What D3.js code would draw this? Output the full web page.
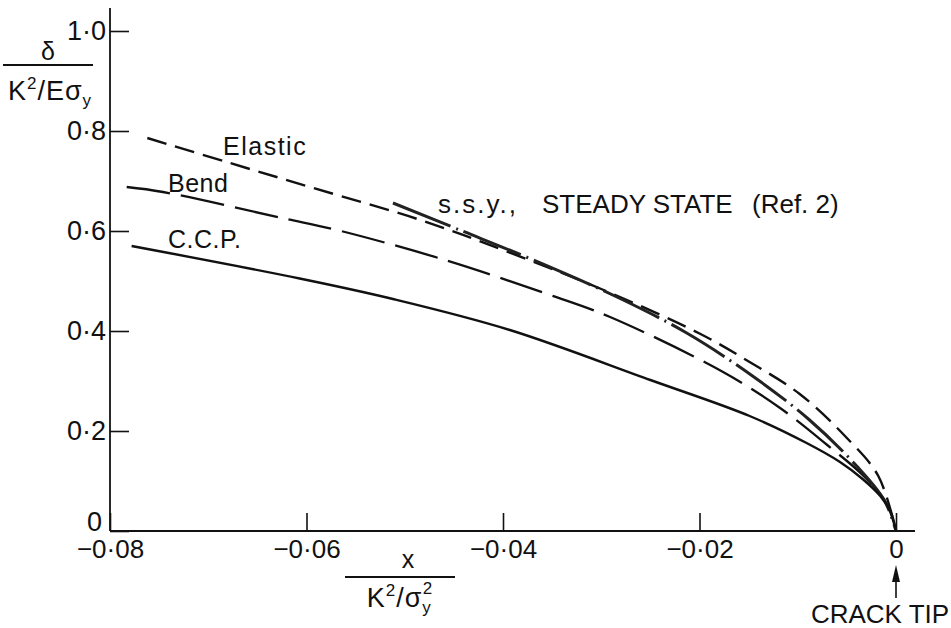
<!DOCTYPE html>
<html lang="en">
<head>
<meta charset="utf-8">
<title>Crack opening profiles</title>
<script src="https://cdn.jsdelivr.net/npm/d3@7"></script>
<style>
  body { margin: 0; background: #fff; }
  svg text { font-family: "Liberation Sans", Arial, sans-serif; fill: #111; }
</style>
</head>
<body>
<script>
// ticks
var xTicks = [-0.08, -0.06, -0.04, -0.02, 0];
var xTickLabels = ["\u22120\u00b708", "\u22120\u00b706", "\u22120\u00b704", "\u22120\u00b702", "0"];
var yTicks = [0, 0.2, 0.4, 0.6, 0.8, 1.0];
var yTickLabels = ["0", "0\u00b72", "0\u00b74", "0\u00b76", "0\u00b78", "1\u00b70"];

// curves: [x, delta]
var elastic = [[-0.0762, 0.786], [-0.0678, 0.736], [-0.0593, 0.686], [-0.0484, 0.622], [-0.040, 0.562],
  [-0.030, 0.484], [-0.020, 0.395], [-0.0149, 0.338], [-0.0098, 0.274], [-0.0050, 0.186],
  [-0.0018, 0.110], [0, 0]];
var ssy = [[-0.0512, 0.656], [-0.0444, 0.602], [-0.0369, 0.542], [-0.0284, 0.468], [-0.0213, 0.396],
  [-0.0146, 0.310], [-0.0088, 0.222], [-0.0040, 0.130], [-0.0012, 0.062], [0, 0]];
var bend = [[-0.0783, 0.688], [-0.0746, 0.678], [-0.0625, 0.626], [-0.0569, 0.602], [-0.0459, 0.542],
  [-0.0352, 0.472], [-0.0291, 0.428], [-0.0176, 0.318], [-0.0118, 0.246], [-0.0070, 0.172],
  [-0.0034, 0.112], [-0.0010, 0.056], [0, 0]];
var ccp = [[-0.0778, 0.570], [-0.0607, 0.505], [-0.0512, 0.464], [-0.0393, 0.402], [-0.0250, 0.302],
  [-0.0149, 0.230], [-0.0091, 0.176], [-0.0057, 0.138], [-0.0034, 0.104], [-0.0016, 0.070],
  [-0.0005, 0.036], [0, 0]];

var curveLabels = ["Elastic", "Bend", "C.C.P."];

var svg = d3.select("body").append("svg")
    .attr("width", 951)
    .attr("height", 628);

var x = d3.scaleLinear().domain([-0.08, 0]).range([110, 896]);
var y = d3.scaleLinear().domain([0, 1]).range([531, 31]);

// axis lines
svg.append("line").attr("x1", x(-0.08)).attr("x2", 915).attr("y1", y(0)).attr("y2", y(0))
    .attr("stroke", "#111").attr("stroke-width", 1.8);
svg.append("line").attr("x1", x(-0.08)).attr("x2", x(-0.08)).attr("y1", 8).attr("y2", y(0))
    .attr("stroke", "#111").attr("stroke-width", 1.8);

var xAxis = svg.append("g")
    .attr("transform", "translate(0," + y(0) + ")")
    .call(d3.axisBottom(x).tickValues(xTicks)
      .tickFormat(function(d, i) { return xTickLabels[i]; })
      .tickSizeInner(-18).tickSizeOuter(0).tickPadding(9));
xAxis.select(".domain").remove();
xAxis.selectAll("line").attr("stroke", "#111").attr("stroke-width", 1.6);
xAxis.selectAll("text").attr("font-size", 26).attr("font-family", null).attr("fill", "#111");

var yAxis = svg.append("g")
    .attr("transform", "translate(" + x(-0.08) + ",0)")
    .call(d3.axisLeft(y).tickValues(yTicks)
      .tickFormat(function(d, i) { return yTickLabels[i]; })
      .tickSizeInner(-19).tickSizeOuter(0).tickPadding(4));
yAxis.select(".domain").remove();
yAxis.selectAll("line").attr("stroke", "#111").attr("stroke-width", 1.6);
yAxis.selectAll("text").attr("font-size", 27).attr("font-family", null).attr("fill", "#111");
yAxis.selectAll(".tick").filter(function(d) { return d === 0; })
    .select("text").attr("x", -8).attr("dy", "-0.02em");

// curves
var line = d3.line()
    .x(function(d) { return x(d[0]); })
    .y(function(d) { return y(d[1]); })
    .curve(d3.curveCatmullRom.alpha(0.5));

svg.append("path").datum(elastic).attr("d", line)
    .attr("fill", "none").attr("stroke", "#111").attr("stroke-width", 2.4)
    .attr("stroke-dasharray", "20,9");
svg.append("path").datum(bend).attr("d", line)
    .attr("fill", "none").attr("stroke", "#111").attr("stroke-width", 2.3)
    .attr("stroke-dasharray", "44,11");
svg.append("path").datum(ssy).attr("d", line)
    .attr("fill", "none").attr("stroke", "#222").attr("stroke-width", 3)
    .attr("stroke-dasharray", "62,6,2,6");
svg.append("path").datum(ccp).attr("d", line)
    .attr("fill", "none").attr("stroke", "#111").attr("stroke-width", 2.4);

// curve labels
svg.append("text").attr("x", 223).attr("y", 155).attr("font-size", 25)
    .attr("letter-spacing", 1.5).text(curveLabels[0]);
svg.append("text").attr("x", 168).attr("y", 192).attr("font-size", 25)
    .attr("letter-spacing", 0.5).text(curveLabels[1]);
svg.append("text").attr("x", 168).attr("y", 248).attr("font-size", 25)
    .attr("letter-spacing", 0.5).text(curveLabels[2]);

svg.append("text").attr("x", 438).attr("y", 213).attr("font-size", 26)
    .attr("letter-spacing", 2).text("s.s.y.,");
svg.append("text").attr("x", 542).attr("y", 213).attr("font-size", 26)
    .text("STEADY STATE");
svg.append("text").attr("x", 752).attr("y", 213).attr("font-size", 26)
    .text("(Ref. 2)");

// y axis title
svg.append("text").attr("x", 48).attr("y", 60).attr("font-size", 25)
    .attr("text-anchor", "middle").text("\u03b4");
svg.append("line").attr("x1", 3).attr("x2", 93).attr("y1", 65).attr("y2", 65)
    .attr("stroke", "#111").attr("stroke-width", 1.8);
var yt = svg.append("text").attr("x", 50).attr("y", 100).attr("font-size", 27)
    .attr("text-anchor", "middle").attr("letter-spacing", 1);
yt.append("tspan").text("K");
yt.append("tspan").attr("dy", -11).attr("font-size", 17).text("2");
yt.append("tspan").attr("dy", 11).text("/E\u03c3");
yt.append("tspan").attr("dy", 6).attr("font-size", 17).text("y");

// x axis title
svg.append("text").attr("x", 408).attr("y", 568).attr("font-size", 25)
    .attr("text-anchor", "middle").text("x");
svg.append("line").attr("x1", 345).attr("x2", 455).attr("y1", 577).attr("y2", 577)
    .attr("stroke", "#111").attr("stroke-width", 1.8);
var xt = svg.append("text").attr("x", 400).attr("y", 607).attr("font-size", 27)
    .attr("text-anchor", "middle").attr("letter-spacing", 1);
xt.append("tspan").text("K");
xt.append("tspan").attr("dy", -11).attr("font-size", 17).text("2");
xt.append("tspan").attr("dy", 11).text("/\u03c3");
xt.append("tspan").attr("dy", 6).attr("font-size", 17).text("y");
xt.append("tspan").attr("dy", -19).attr("dx", -9).attr("font-size", 17).text("2");

// crack tip arrow
svg.append("line").attr("x1", x(0)).attr("x2", x(0)).attr("y1", 598).attr("y2", 578)
    .attr("stroke", "#111").attr("stroke-width", 1.6);
svg.append("path")
    .attr("d", "M" + x(0) + ",565 L" + (x(0) - 4) + ",582 L" + (x(0) + 4) + ",582 Z")
    .attr("fill", "#111");
svg.append("text").attr("x", 880).attr("y", 623).attr("font-size", 26)
    .attr("text-anchor", "middle").text("CRACK TIP");
</script>
</body>
</html>
